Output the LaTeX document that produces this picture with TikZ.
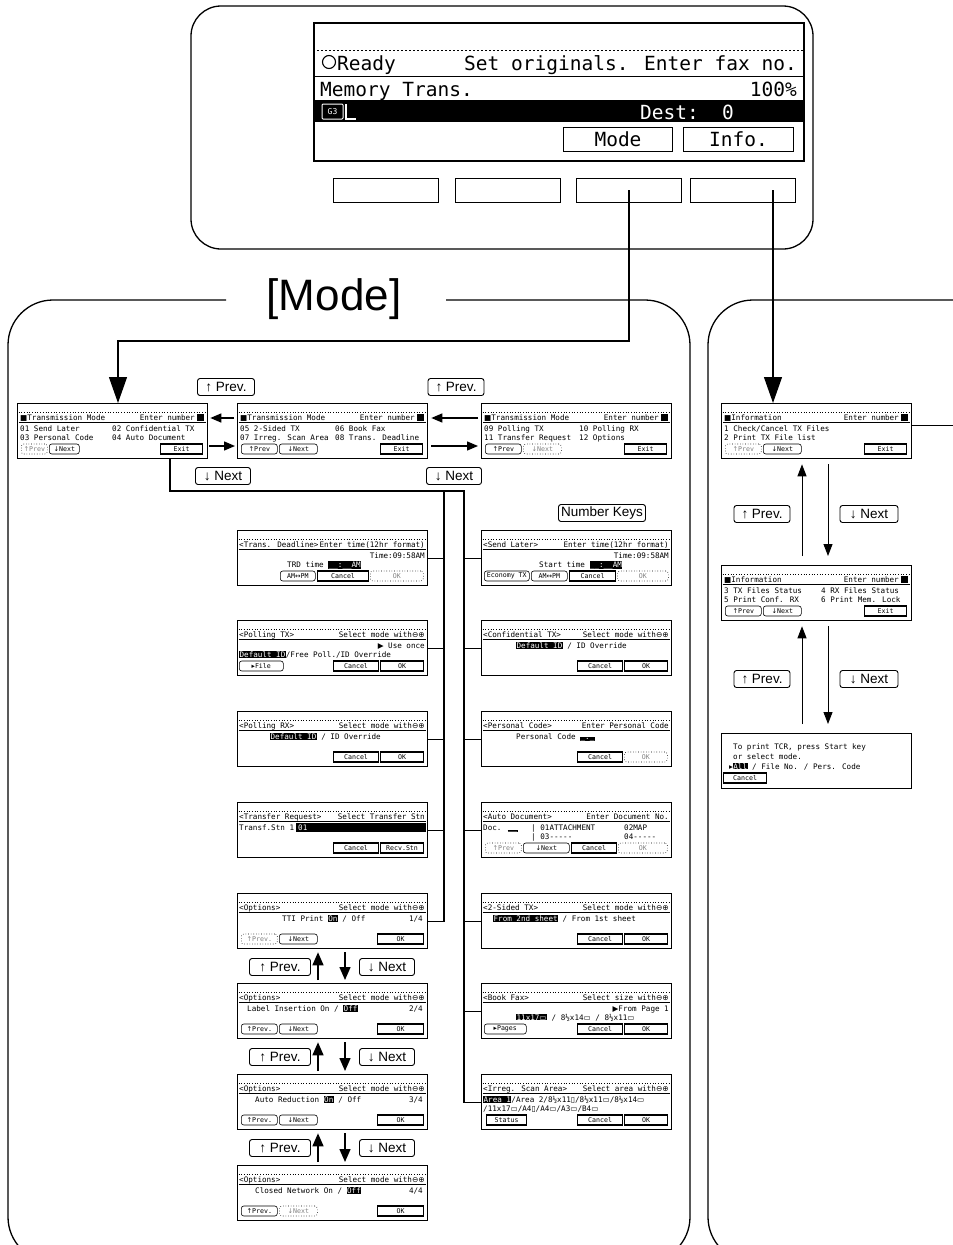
\documentclass[tikz,border=0pt]{standalone}
\usepackage{fontspec}
\setmainfont{Liberation Sans}
\newfontfamily\lcdfam{DejaVu Sans Mono}
\newfontfamily\symfam{DejaVu Sans}
\usetikzlibrary{arrows.meta}
\newcommand\lcd{\lcdfam\fontsize{7.6}{8}\selectfont}
\newcommand\btnf{\lcdfam\fontsize{6.6}{7}\selectfont}
\newcommand\biglcd{\lcdfam\fontsize{19.5}{20}\selectfont}
\newcommand\Sy[1]{{\symfam #1}}
\newcommand\Hl[1]{{\setlength\fboxsep{0.4pt}\colorbox{black}{\textcolor{white}{#1}}}}
\newcommand\lrs{\Sy{⊖⊕}}
\newcommand\lsc{\Sy{▭}}
\newcommand\psc{\Sy{▯}}
\newcommand\Lt[3]{\node[lt] at (#1,#2) {#3};}
\newcommand\Rt[3]{\node[rt] at (#1,#2) {#3};}
\newcommand\Bt[5][46]{\node[#2, minimum width={#4-#3}] at (#3,#1) {#5};}
\newcommand\Scr[4]{\node[scr] (#1) at (#2,#3) {};
 \begin{scope}[shift={(#2,#3)}]
 \draw[dotted, line width=.7pt] (1.5,9)--(188.5,9);
 \draw[line width=.4pt] (1.5,19.5)--(188.5,19.5);
 #4
 \end{scope}}
\begin{document}
\begin{tikzpicture}[x=1pt,y=-1pt,
 scr/.style={draw, line width=1.3pt, minimum width=190pt, minimum height=55pt, inner sep=0, anchor=north west},
 lt/.style={font=\lcd, inner sep=0, anchor=base west},
 rt/.style={font=\lcd, inner sep=0, anchor=base east},
 btn/.style={draw, line width=.6pt, rounded corners=2.5pt, inner sep=0, minimum height=10pt, anchor=west, font=\btnf},
 sb/.style={btn, sharp corners, line width=1.1pt},
 db/.style={btn, dotted, text=gray},
 lbl/.style={draw, line width=.9pt, rounded corners=2.5pt, inner sep=0, minimum height=17pt, font=\fontsize{13.5}{13.5}\selectfont},
 key/.style={draw, line width=1pt, minimum width=105pt, minimum height=24pt, inner sep=0, anchor=north west},
 tree/.style={line width=1.3pt},
 sarr/.style={line width=1.4pt, -{Triangle[length=11pt,width=9pt]}},
 varr/.style={line width=1pt, -{Triangle[length=12pt,width=9pt]}},
 oarr/.style={line width=1.4pt, -{Triangle[length=13pt,width=11pt]}},
 barr/.style={line width=1.2pt, -{Triangle[length=26pt,width=18pt]}},
 panel/.style={line width=1.3pt, rounded corners=45pt}]
\useasboundingbox (0,0) rectangle (953,1245);
\clip (0,0) rectangle (953,1245);

% ---------- top control panel ----------
\draw[line width=1.3pt, rounded corners=30pt] (191,6) rectangle (813,249);
\node[draw, line width=1.6pt, minimum width=490pt, minimum height=138pt, anchor=north west, inner sep=0] (lcd) at (313,22) {};
\draw[dash pattern=on 2pt off 2pt, line width=1pt] (313,50) -- (803,50);
\draw[line width=1pt] (313,76) -- (803,76);
\draw[line width=1pt] (313,100) -- (803,100);
\fill (313,101) rectangle (803,122);
\draw[line width=1.1pt] (329,62) circle (6.5pt);
\node[anchor=base west, font=\biglcd, inner sep=0] (rdy) at (337,70) {Ready};
\node[anchor=base east, font=\biglcd, inner sep=0] (setorig) at (797,70) {Set originals. Enter fax no.};
\node[anchor=base west, font=\biglcd, inner sep=0] (memtr) at (320,96) {Memory Trans.};
\node[anchor=base east, font=\biglcd, inner sep=0] (pct) at (797,96) {100\%};
\draw[white, line width=1pt, rounded corners=1pt] (322,104) rectangle (343,119);
\node[white, font=\lcdfam\fontsize{8}{8}\selectfont, inner sep=0] (gthree) at (332.5,111.5) {G3};
\draw[white, line width=1.2pt] (346,104) -- (346,119) -- (356,119);
\node[anchor=base west, font=\biglcd, inner sep=0, text=white] (dest) at (640,119) {Dest:};
\node[anchor=base west, font=\biglcd, inner sep=0, text=white] (zero) at (722,119) {0};
\node[draw, line width=1pt, minimum width=109pt, minimum height=24pt, anchor=north west, inner sep=0, font=\biglcd] (bmode) at (563,127) {Mode};
\node[draw, line width=1pt, minimum width=110pt, minimum height=24pt, anchor=north west, inner sep=0, font=\biglcd] (binfo) at (683,127) {Info.};
\node[key] (k1) at (333,178) {};
\node[key] (k2) at (455,178) {};
\node[key] (k3) at (576,178) {};
\node[key] (k4) at (690,178) {};
\coordinate (mtap) at (629,190);
\coordinate (itap) at (773,190);

% ---------- panels ----------
\node[font=\fontsize{44}{44}\selectfont, inner sep=0] (mlab) at (334,299) {[Mode]};
\draw[panel] (226,300) -- (8,300) -- (8,1262) -- (690,1262) -- (690,300) -- (446,300);
\draw[panel] (975,300) -- (708,300) -- (708,1262) -- (975,1262);

% ---------- transmission mode screens ----------
\Scr{s1}{17}{403}{
 \Lt{3}{17}{\Sy{■}Transmission Mode}
 \Rt{178}{17}{Enter number}
 \fill (180,11) rectangle (187,18);
 \Lt{3}{28}{01 Send Later}
 \Lt{95}{28}{02 Confidential TX}
 \Lt{3}{37}{03 Personal Code}
 \Lt{95}{37}{04 Auto Document}
 \Bt{db}{4}{30}{\Sy{↑}Prev}
 \Bt{btn}{32}{62}{\Sy{↓}Next}
 \Bt{sb}{143}{185}{Exit}}
\Scr{s2}{237}{403}{
 \Lt{3}{17}{\Sy{■}Transmission Mode}
 \Rt{178}{17}{Enter number}
 \fill (180,11) rectangle (187,18);
 \Lt{3}{28}{05 2-Sided TX}
 \Lt{98}{28}{06 Book Fax}
 \Lt{3}{37}{07 Irreg. Scan Area}
 \Lt{98}{37}{08 Trans. Deadline}
 \Bt{btn}{4}{40}{\Sy{↑}Prev}
 \Bt{btn}{42}{80}{\Sy{↓}Next}
 \Bt{sb}{143}{185}{Exit}}
\Scr{s3}{481}{403}{
 \Lt{3}{17}{\Sy{■}Transmission Mode}
 \Rt{178}{17}{Enter number}
 \fill (180,11) rectangle (187,18);
 \Lt{3}{28}{09 Polling TX}
 \Lt{98}{28}{10 Polling RX}
 \Lt{3}{37}{11 Transfer Request}
 \Lt{98}{37}{12 Options}
 \Bt{btn}{4}{40}{\Sy{↑}Prev}
 \Bt{db}{42}{80}{\Sy{↓}Next}
 \Bt{sb}{143}{185}{Exit}}

% ---------- left column ----------
\Scr{td}{237}{530}{
 \Lt{2}{17}{<Trans. Deadline>}
 \Rt{188}{17}{Enter time(12hr format)}
 \Rt{188}{28}{Time:09:58AM}
 \Lt{50}{37}{TRD time \Hl{\_\_:\_\_AM}}
 \Bt{btn}{43}{78}{AM\Sy{↔}PM}
 \Bt{sb}{80}{131}{Cancel}
 \Bt{db}{133}{186}{OK}}
\Scr{ptx}{237}{620}{
 \Lt{2}{17}{<Polling TX>}
 \Rt{188}{17}{Select mode with\lrs}
 \Rt{188}{28}{\Sy{▶} Use once}
 \Lt{2}{37}{\Hl{Default ID}/Free Poll./ID Override}
 \Bt{btn}{2}{46}{\Sy{▸}File}
 \Bt{sb}{96}{141}{Cancel}
 \Bt{sb}{143}{186}{OK}}
\Scr{prx}{237}{711}{
 \Lt{2}{17}{<Polling RX>}
 \Rt{188}{17}{Select mode with\lrs}
 \Lt{33}{28}{\Hl{Default ID} / ID Override}
 \Bt{sb}{96}{141}{Cancel}
 \Bt{sb}{143}{186}{OK}}
\Scr{trq}{237}{802}{
 \Lt{2}{17}{<Transfer Request>}
 \Rt{188}{17}{Select Transfer Stn}
 \Lt{2}{28}{Transf.Stn 1}
 \fill (59,21) rectangle (189,30);
 \Lt{61}{28}{\textcolor{white}{01}}
 \Bt{sb}{96}{141}{Cancel}
 \Bt{sb}{143}{186}{Recv.Stn}}
\Scr{o1}{237}{893}{
 \Lt{2}{17}{<Options>}
 \Rt{188}{17}{Select mode with\lrs}
 \Lt{45}{28}{TTI Print \Hl{On} / Off}
 \Rt{186}{28}{1/4}
 \Bt{db}{4}{40}{\Sy{↑}Prev.}
 \Bt{btn}{42}{80}{\Sy{↓}Next}
 \Bt{sb}{140}{186}{OK}}
\Scr{o2}{237}{983}{
 \Lt{2}{17}{<Options>}
 \Rt{188}{17}{Select mode with\lrs}
 \Lt{10}{28}{Label Insertion  On / \Hl{Off}}
 \Rt{186}{28}{2/4}
 \Bt{btn}{4}{40}{\Sy{↑}Prev.}
 \Bt{btn}{42}{80}{\Sy{↓}Next}
 \Bt{sb}{140}{186}{OK}}
\Scr{o3}{237}{1074}{
 \Lt{2}{17}{<Options>}
 \Rt{188}{17}{Select mode with\lrs}
 \Lt{18}{28}{Auto Reduction  \Hl{On} / Off}
 \Rt{186}{28}{3/4}
 \Bt{btn}{4}{40}{\Sy{↑}Prev.}
 \Bt{btn}{42}{80}{\Sy{↓}Next}
 \Bt{sb}{140}{186}{OK}}
\Scr{o4}{237}{1165}{
 \Lt{2}{17}{<Options>}
 \Rt{188}{17}{Select mode with\lrs}
 \Lt{18}{28}{Closed Network  On / \Hl{Off}}
 \Rt{186}{28}{4/4}
 \Bt{btn}{4}{40}{\Sy{↑}Prev.}
 \Bt{db}{42}{80}{\Sy{↓}Next}
 \Bt{sb}{140}{186}{OK}}

% ---------- right column ----------
\Scr{sl}{481}{530}{
 \Lt{2}{17}{<Send Later>}
 \Rt{188}{17}{Enter time(12hr format)}
 \Rt{188}{28}{Time:09:58AM}
 \Lt{58}{37}{Start time \Hl{\_\_:\_\_AM}}
 \Bt{btn}{3}{48}{Economy TX}
 \Bt{btn}{50}{86}{AM\Sy{↔}PM}
 \Bt{sb}{88}{134}{Cancel}
 \Bt{db}{136}{187}{OK}}
\Scr{cf}{481}{620}{
 \Lt{2}{17}{<Confidential TX>}
 \Rt{188}{17}{Select mode with\lrs}
 \Lt{35}{28}{\Hl{Default ID} / ID Override}
 \Bt{sb}{96}{141}{Cancel}
 \Bt{sb}{143}{186}{OK}}
\Scr{pc}{481}{711}{
 \Lt{2}{17}{<Personal Code>}
 \Rt{188}{17}{Enter Personal Code}
 \Lt{35}{28}{Personal Code \Hl{\_.\_}}
 \Bt{sb}{96}{141}{Cancel}
 \Bt{db}{143}{186}{OK}}
\Scr{ad}{481}{802}{
 \Lt{2}{17}{<Auto Document>}
 \Rt{188}{17}{Enter Document No.}
 \Lt{2}{28}{Doc. \Hl{\_\_}}
 \Lt{50}{28}{| 01ATTACHMENT}
 \Lt{143}{28}{02MAP}
 \Lt{50}{37}{| 03-----}
 \Lt{143}{37}{04-----}
 \Bt{db}{4}{40}{\Sy{↑}Prev}
 \Bt{btn}{42}{88}{\Sy{↓}Next}
 \Bt{sb}{90}{135}{Cancel}
 \Bt{db}{137}{186}{OK}}
\Scr{ts}{481}{893}{
 \Lt{2}{17}{<2-Sided TX>}
 \Rt{188}{17}{Select mode with\lrs}
 \Lt{12}{28}{\Hl{From 2nd sheet} / From 1st sheet}
 \Bt{sb}{96}{141}{Cancel}
 \Bt{sb}{143}{186}{OK}}
\Scr{bf}{481}{983}{
 \Lt{2}{17}{<Book Fax>}
 \Rt{188}{17}{Select size with\lrs}
 \Rt{188}{28}{\Sy{▶}From Page 1}
 \Lt{35}{37}{\Hl{11x17\lsc} / 8½x14\lsc{} / 8½x11\lsc}
 \Bt{btn}{3}{45}{\Sy{▸}Pages}
 \Bt{sb}{96}{141}{Cancel}
 \Bt{sb}{143}{186}{OK}}
\Scr{ir}{481}{1074}{
 \Lt{2}{17}{<Irreg. Scan Area>}
 \Rt{188}{17}{Select area with\lrs}
 \Lt{2}{28}{\Hl{Area 1}/Area 2/8½x11\psc/8½x11\lsc/8½x14\lsc}
 \Lt{2}{37}{/11x17\lsc/A4\psc/A4\lsc/A3\lsc/B4\lsc}
 \Bt{sb}{5}{45}{Status}
 \Bt{sb}{96}{141}{Cancel}
 \Bt{sb}{143}{186}{OK}}

% ---------- information column ----------
\Scr{i1}{721}{403}{
 \Lt{3}{17}{\Sy{■}Information}
 \Rt{178}{17}{Enter number}
 \fill (180,11) rectangle (187,18);
 \Lt{3}{28}{1 Check/Cancel TX Files}
 \Lt{3}{37}{2 Print TX File list}
 \Bt{db}{4}{40}{\Sy{↑}Prev}
 \Bt{btn}{42}{80}{\Sy{↓}Next}
 \Bt{sb}{143}{185}{Exit}}
\Scr{i2}{721}{565}{
 \Lt{3}{17}{\Sy{■}Information}
 \Rt{178}{17}{Enter number}
 \fill (180,11) rectangle (187,18);
 \Lt{3}{28}{3 TX Files Status}
 \Lt{100}{28}{4 RX Files Status}
 \Lt{3}{37}{5 Print Conf. RX}
 \Lt{100}{37}{6 Print Mem. Lock}
 \Bt{btn}{4}{40}{\Sy{↑}Prev}
 \Bt{btn}{42}{80}{\Sy{↓}Next}
 \Bt{sb}{143}{185}{Exit}}
\node[scr] (i3) at (721,733) {};
\begin{scope}[shift={(721,733)}]
 \Lt{12}{16}{To print TCR, press Start key}
 \Lt{12}{26}{or select mode.}
 \Lt{8}{36}{\Sy{▸}\Hl{All} / File No.    / Pers. Code}
 \Bt[45]{sb}{2}{45}{Cancel}
\end{scope}

% ---------- connectors ----------
\draw[barr] (mtap) -- (629,341) -- (118,341) -- (118,0 |- s1.north);
\draw[barr] (itap) -- (773,0 |- i1.north);

\draw[sarr, shorten <=3pt, shorten >=2pt] (s2.west |- 0,418) -- (s1.east |- 0,418);
\draw[sarr, shorten <=1pt, shorten >=2pt] (s1.east |- 0,446) -- (s2.west |- 0,446);
\draw[sarr, shorten <=3pt, shorten >=3pt] (s3.west |- 0,418) -- (s2.east |- 0,418);
\draw[sarr, shorten <=3pt, shorten >=3pt] (s2.east |- 0,446) -- (s3.west |- 0,446);
\node[lbl, minimum width=57pt] (pv1) at (226,387) {↑ Prev.};
\node[lbl, minimum width=56pt] (pv2) at (456,387) {↑ Prev.};
\node[lbl, minimum width=55pt] (nx1) at (223,476) {↓ Next};
\node[lbl, minimum width=55pt] (nx2) at (454,476) {↓ Next};
\node[lbl, minimum width=87pt] (nkeys) at (602,513) {Number Keys};

\coordinate (j0) at (170,491);
\coordinate (jl) at (444,491);
\coordinate (jr) at (464,491);
\draw[tree] (170,0 |- s1.south) -- (j0) -- (jr) -- (jr |- ir.west) -- (ir.west);
\draw[tree] (jl) -- (jl |- o1.east) -- (o1.east);
\foreach \n in {td,ptx,prx,trq} \draw[tree] (\n.east) -- (jl |- \n.east);
\foreach \n in {sl,cf,pc,ad,ts,bf} \draw[tree] (jr |- \n.west) -- (\n.west);

\foreach \a/\b/\y [count=\i] in {o1/o2/967, o2/o3/1057, o3/o4/1148} {
 \draw[oarr, shorten <=3pt, shorten >=3pt] (318,0 |- \b.north) -- (318,0 |- \a.south);
 \draw[oarr, shorten <=3pt, shorten >=3pt] (345,0 |- \a.south) -- (345,0 |- \b.north);
 \node[lbl, minimum width=61pt] (opv\i) at (280,\y) {↑ Prev.};
 \node[lbl, minimum width=55pt] (onx\i) at (387,\y) {↓ Next};
}

\draw[varr, shorten <=9pt, shorten >=5pt] (802,0 |- i2.north) -- (802,0 |- i1.south);
\draw[varr, shorten <=5pt, shorten >=9pt] (828,0 |- i1.south) -- (828,0 |- i2.north);
\node[lbl, minimum width=56pt] (ipv1) at (762,514) {↑ Prev.};
\node[lbl, minimum width=58pt] (inx1) at (869,514) {↓ Next};
\draw[varr, shorten <=9pt, shorten >=5pt] (802,0 |- i3.north) -- (802,0 |- i2.south);
\draw[varr, shorten <=5pt, shorten >=9pt] (828,0 |- i2.south) -- (828,0 |- i3.north);
\node[lbl, minimum width=56pt] (ipv2) at (762,679) {↑ Prev.};
\node[lbl, minimum width=58pt] (inx2) at (869,679) {↓ Next};
\coordinate (offr) at (960,425);
\draw[line width=1pt] (i1.east |- offr) -- (offr);
\end{tikzpicture}
\end{document}
